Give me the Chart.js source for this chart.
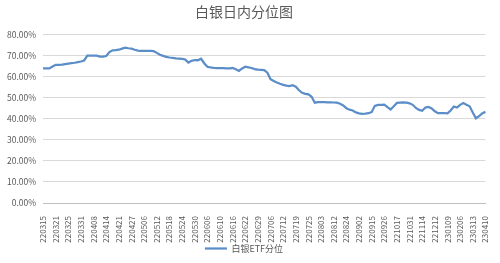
<!DOCTYPE html>
<html>
<head>
<meta charset="utf-8">
<script src="https://cdn.jsdelivr.net/npm/chart.js@4.4.1/dist/chart.umd.min.js"></script>
<style>
  html, body { margin: 0; padding: 0; background: #fff; }
  #wrap { width: 500px; height: 263px; }
</style>
</head>
<body>
<div id="wrap"><canvas id="myChart"></canvas></div>
<script>
// tick labels shown on the x axis (one every 4 points)
var tickLabels = ["220315", "220321", "220325", "220331", "220408", "220414", "220421", "220427",
    "220506", "220512", "220518", "220524", "220530", "220606", "220610", "220616", "220622",
    "220629", "220706", "220712", "220719", "220725", "220803", "220812", "220824", "220902",
    "220915", "220926", "221017", "221031", "221114", "221212", "230109", "230206", "230313", "230410"];

// 白银ETF分位 (%)
var silverValues = [
    64.0, 64.0, 64.0, 64.9, 65.7, 65.7, 65.8, 66.1, 66.3, 66.5,
    66.7, 67.0, 67.3, 67.8, 70.1, 70.1, 70.1, 70.1, 69.6, 69.6,
    69.9, 71.8, 72.6, 72.7, 72.9, 73.4, 73.9, 73.6, 73.4, 72.9,
    72.5, 72.4, 72.4, 72.3, 72.3, 72.2, 71.4, 70.5, 70.0, 69.5,
    69.2, 69.0, 68.8, 68.7, 68.6, 68.2, 66.8, 67.6, 68.0, 67.9,
    68.6, 66.5, 64.8, 64.5, 64.3, 64.2, 64.1, 64.1, 64.0, 64.0,
    64.2, 63.6, 62.8, 64.0, 64.8, 64.5, 64.2, 63.7, 63.4, 63.3,
    63.2, 62.0, 58.9, 58.0, 57.3, 56.7, 56.2, 55.8, 55.6, 56.0,
    55.3, 53.6, 52.4, 51.9, 51.7, 50.5, 47.7, 48.0, 48.0, 48.0,
    47.9, 47.9, 47.8, 47.7, 47.2, 46.4, 45.1, 44.4, 44.0, 43.1,
    42.6, 42.4, 42.5, 42.7, 43.2, 46.2, 46.7, 46.7, 46.8, 45.6,
    44.5, 46.0, 47.6, 47.7, 47.8, 47.7, 47.4, 46.7, 45.2, 44.3,
    43.9, 45.4, 45.7, 45.0, 43.6, 42.7, 42.7, 42.7, 42.6, 44.0,
    45.9, 45.4, 46.7, 47.5, 46.7, 46.0, 43.0, 40.3, 41.3, 42.6,
    43.4
];

var categories = [];
for (var i = 0; i < silverValues.length; i++) {
    categories.push(i % 4 === 0 ? tickLabels[i / 4] : "");
}

var font = "'Microsoft YaHei', 'Noto Sans CJK SC', 'Liberation Sans', sans-serif";
var grey = "#595959";

new Chart("myChart", {
    type: "line",
    data: {
        labels: categories,
        datasets: [{
            label: "白银ETF分位",
            data: silverValues,
            borderColor: "#5B8EC8",
            backgroundColor: "#5B8EC8",
            borderWidth: 2.25,
            pointRadius: 0,
            pointStyle: "line",
            tension: 0
        }]
    },
    options: {
        responsive: true,
        maintainAspectRatio: false,
        animation: false,
        layout: { padding: { top: 1, right: 12, left: 0, bottom: 0 } },
        plugins: {
            title: {
                display: true,
                text: "白银日内分位图",
                color: grey,
                font: { family: font, size: 14, weight: "normal" },
                padding: { top: 2, bottom: 15 }
            },
            legend: {
                position: "bottom",
                labels: {
                    usePointStyle: true,
                    pointStyleWidth: 22,
                    color: grey,
                    boxHeight: 8,
                    padding: 1,
                    font: { family: font, size: 9 }
                }
            },
            tooltip: { enabled: false }
        },
        scales: {
            x: {
                offset: false,
                grid: { display: false },
                border: { display: true, color: "#bfbfbf" },
                afterFit: function(scale) { scale.height = 40; },
                ticks: {
                    autoSkip: false,
                    minRotation: 90,
                    maxRotation: 90,
                    color: grey,
                    padding: 5,
                    font: { family: font, size: 8 }
                }
            },
            y: {
                min: 0,
                max: 80,
                border: { display: false },
                grid: { color: "#d9d9d9", drawTicks: false },
                ticks: {
                    stepSize: 10,
                    color: grey,
                    padding: 7,
                    font: { family: font, size: 8.5 },
                    callback: function(v) { return v.toFixed(2) + "%"; }
                }
            }
        }
    }
});
</script>
</body>
</html>
